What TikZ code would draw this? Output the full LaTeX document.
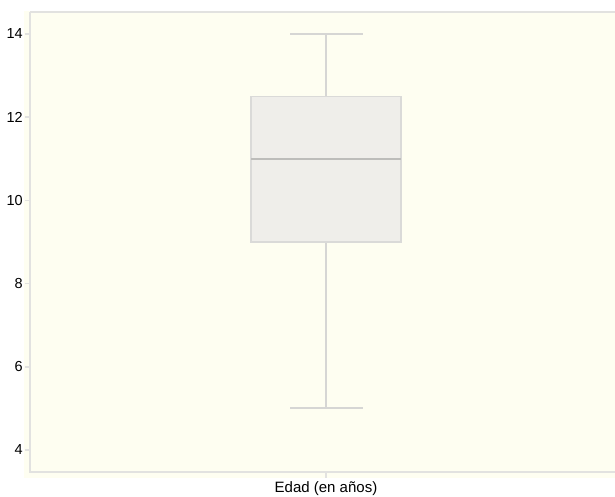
\documentclass[tikz,border=0pt]{standalone}
\usepackage{fontspec}
\setmainfont{Liberation Sans}
\definecolor{cream}{HTML}{FEFEF1}
\definecolor{axisgray}{HTML}{E2E2E0}
\definecolor{boxfill}{HTML}{EFEEEA}
\definecolor{boxline}{HTML}{DADAD8}
\definecolor{medline}{HTML}{BDBDBA}
\definecolor{whisk}{HTML}{D6D6D4}
\tikzset{
  axisline/.style={draw=axisgray, line width=1.5pt},
  tickmark/.style={draw=axisgray, line width=1.5pt},
  ticklabel/.style={anchor=east, inner sep=0pt, font=\fontsize{14.5}{17}\selectfont},
  boxst/.style={fill=boxfill, draw=boxline, line width=1.5pt},
  medst/.style={draw=medline, line width=2pt},
  whiskst/.style={draw=whisk, line width=2pt},
  xlab/.style={anchor=base, inner sep=0pt, font=\fontsize{15}{18}\selectfont}
}
\begin{document}
\begin{tikzpicture}[x=1pt,y=-1pt]
\useasboundingbox (0,0) rectangle (615,496);
\fill[cream] (24,11) rectangle (615,478);
% axes
\draw[axisline] (30,12) -- (615,12);
\draw[axisline] (30,12) -- (30,472) -- (615,472);
% y ticks and labels
\foreach \v in {4,6,8,10,12,14} {
  \pgfmathsetmacro{\yy}{34+(14-\v)*41.6}
  \draw[tickmark] (25,\yy) -- (30,\yy);
  \node[ticklabel] (t\v) at (23,\yy) {\v};
}
% x tick
\draw[tickmark] (326,472) -- (326,478);
% whiskers
\coordinate (wtop) at (326,34);
\coordinate (q3) at (326,96.4);
\coordinate (q1) at (326,242);
\coordinate (wbot) at (326,408.4);
\draw[whiskst] (wtop) -- (q3);
\draw[whiskst] (q1) -- (wbot);
\draw[whiskst] (290,34) -- (363,34);
\draw[whiskst] (290,408.4) -- (363,408.4);
% box
\draw[boxst] (251,96.4) rectangle (401,242);
\draw[medst] (251,158.8) -- (401,158.8);
% x label
\node[xlab] (xlabel) at (326,492) {Edad (en años)};
\end{tikzpicture}
\end{document}
